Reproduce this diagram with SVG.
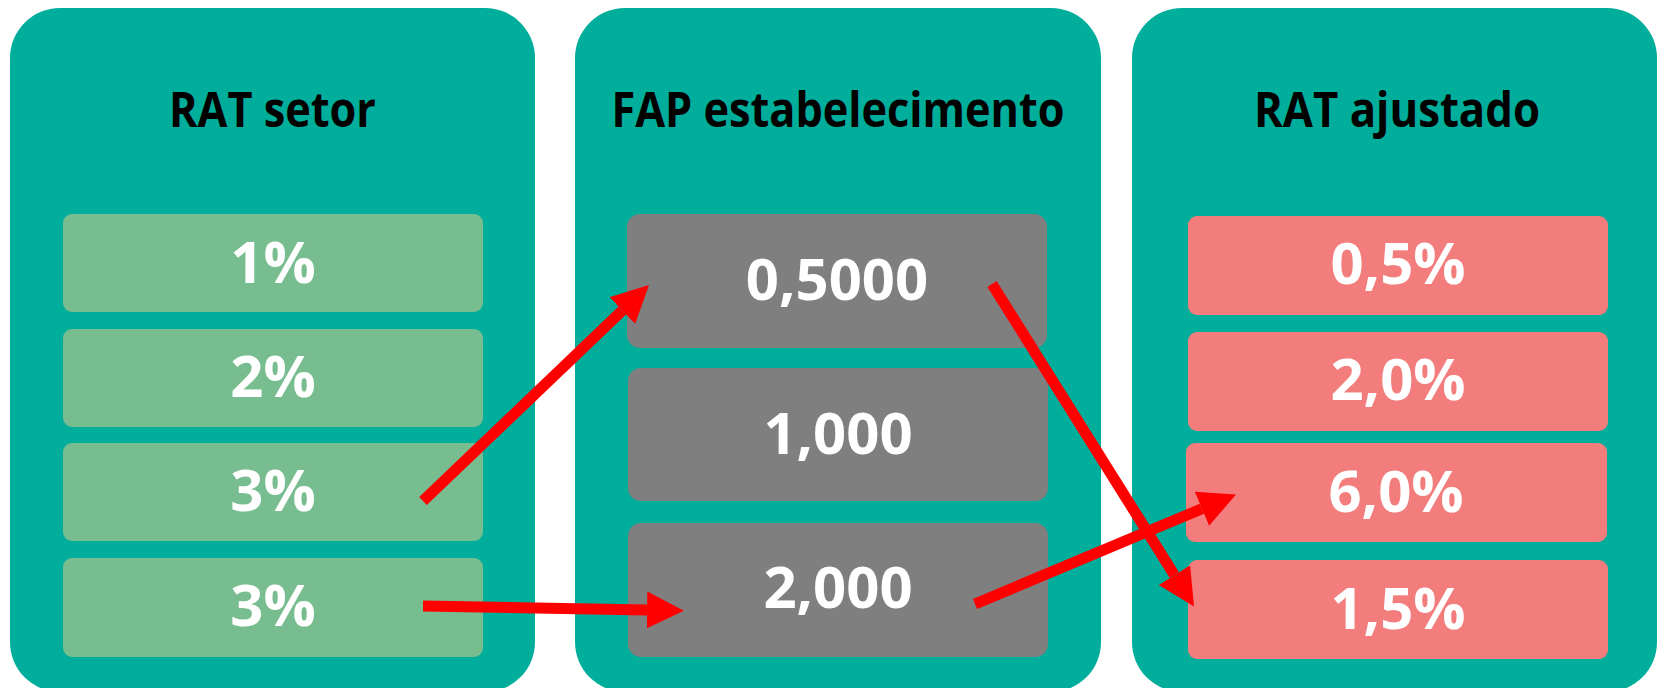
<svg xmlns="http://www.w3.org/2000/svg" width="1659" height="688" viewBox="0 0 1659 688">
<style>
.panel{fill:#00AE9B}
.g{fill:#78BD8F}
.k{fill:#7F7F7F}
.p{fill:#F37C7C}
.title{font-family:"Open Sans","Liberation Sans",sans-serif;font-weight:700;font-size:48px;fill:#000;text-anchor:middle}
.val{font-family:"Open Sans","Liberation Sans",sans-serif;font-weight:700;font-size:58px;fill:#fff;text-anchor:middle}
.arr{stroke:#FF0000;stroke-width:11;fill:none;marker-end:url(#ah)}
</style>
<defs>
<marker id="ah" markerUnits="userSpaceOnUse" markerWidth="40" markerHeight="40" refX="0" refY="18.5" orient="auto" viewBox="0 0 40 40">
<path d="M0,0 L37,18.5 L0,37 z" fill="#FF0000"/>
</marker>
</defs>
<rect width="1659" height="688" fill="#fff"/>
<g id="panel-rat-setor">
<rect class="panel" x="10" y="8" width="525" height="684" rx="50" ry="50"/>
<text class="title" x="272.5" y="127" textLength="207" lengthAdjust="spacingAndGlyphs">RAT setor</text>
</g>
<g id="panel-fap">
<rect class="panel" x="575" y="8" width="526" height="684" rx="50" ry="50"/>
<text class="title" x="838" y="127" textLength="453" lengthAdjust="spacingAndGlyphs">FAP estabelecimento</text>
</g>
<g id="panel-rat-ajustado">
<rect class="panel" x="1132" y="8" width="525" height="684" rx="50" ry="50"/>
<text class="title" x="1397" y="127" textLength="286" lengthAdjust="spacingAndGlyphs">RAT ajustado</text>
</g>
<g id="rat-1"><rect class="g" x="63" y="214" width="420" height="98" rx="9"/><text class="val" x="273" y="283">1%</text></g>
<g id="rat-2"><rect class="g" x="63" y="329" width="420" height="98" rx="9"/><text class="val" x="273" y="397">2%</text></g>
<g id="rat-3a"><rect class="g" x="63" y="443" width="420" height="98" rx="9"/><text class="val" x="273" y="511">3%</text></g>
<g id="rat-3b"><rect class="g" x="63" y="558" width="420" height="99" rx="9"/><text class="val" x="273" y="626">3%</text></g>
<g id="fap-05"><rect class="k" x="627" y="214" width="420" height="134" rx="13"/><text class="val" x="837" y="300">0,5000</text></g>
<g id="fap-1"><rect class="k" x="628" y="368" width="420" height="133" rx="13"/><text class="val" x="838" y="454">1,000</text></g>
<g id="fap-2"><rect class="k" x="628" y="523" width="420" height="134" rx="13"/><text class="val" x="838" y="608">2,000</text></g>
<g id="adj-05"><rect class="p" x="1188" y="216" width="420" height="99" rx="9"/><text class="val" x="1398" y="284">0,5%</text></g>
<g id="adj-20"><rect class="p" x="1188" y="332" width="420" height="99" rx="9"/><text class="val" x="1398" y="400">2,0%</text></g>
<g id="adj-60"><rect class="p" x="1186" y="443" width="421" height="99" rx="9"/><text class="val" x="1396" y="512">6,0%</text></g>
<g id="adj-15"><rect class="p" x="1188" y="560" width="420" height="99" rx="9"/><text class="val" x="1398" y="629">1,5%</text></g>
<g id="connectors">
<line class="arr" x1="423" y1="501" x2="622.3" y2="310.6"/>
<line class="arr" x1="423" y1="606" x2="647" y2="610"/>
<line class="arr" x1="992" y1="284" x2="1174.4" y2="575.1"/>
<line class="arr" x1="975" y1="604" x2="1201.9" y2="508.8"/>
</g>
</svg>
